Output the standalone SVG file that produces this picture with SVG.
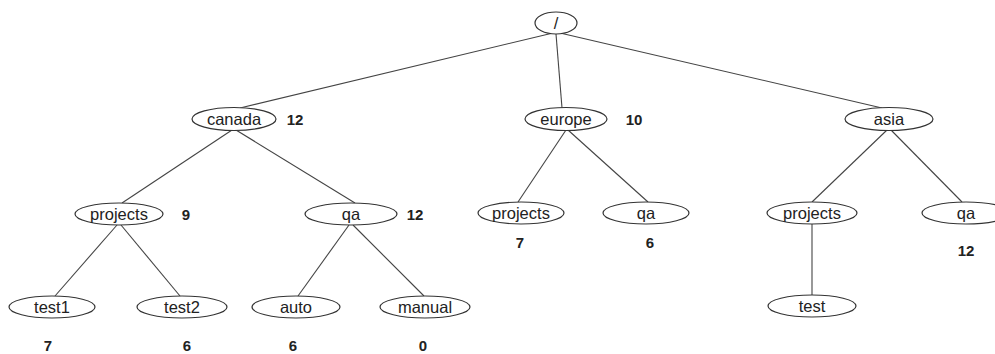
<svg xmlns="http://www.w3.org/2000/svg" width="995" height="354" viewBox="0 0 995 354">
  <style>
    .node ellipse { fill: #ffffff; stroke: #333333; stroke-width: 1.2; }
    .node text { font-family: "Liberation Sans", Arial, sans-serif; font-size: 16.5px; fill: #222222; text-anchor: middle; }
    .count { font-family: "Liberation Sans", Arial, sans-serif; font-size: 15px; font-weight: bold; fill: #222222; text-anchor: middle; }
    #edges line { stroke: #444444; stroke-width: 1.1; }
  </style>
  <rect width="995" height="354" fill="#ffffff"/>

  <g id="edges">
    <line x1="553" y1="33" x2="240" y2="108"/>
    <line x1="556" y1="34" x2="562" y2="108"/>
    <line x1="560" y1="33" x2="882" y2="108"/>
    <line x1="232" y1="130" x2="122" y2="203"/>
    <line x1="236" y1="130" x2="355" y2="203"/>
    <line x1="566" y1="130" x2="518" y2="202"/>
    <line x1="568" y1="130" x2="648" y2="202"/>
    <line x1="887" y1="130" x2="812" y2="202"/>
    <line x1="891" y1="130" x2="962" y2="202"/>
    <line x1="117" y1="225" x2="55" y2="296"/>
    <line x1="121" y1="225" x2="180" y2="296"/>
    <line x1="349" y1="225" x2="298" y2="296"/>
    <line x1="353" y1="225" x2="424" y2="296"/>
    <line x1="812" y1="224" x2="812" y2="295"/>
  </g>

  <g id="root" class="node"><ellipse cx="556" cy="23" rx="21" ry="11"/><text x="556" y="29">/</text></g>

  <g id="canada" class="node"><ellipse cx="234" cy="119" rx="42" ry="11.5"/><text x="234" y="125">canada</text></g>
  <text class="count" x="295" y="124.5">12</text>

  <g id="europe" class="node"><ellipse cx="566" cy="119" rx="41" ry="11.5"/><text x="566" y="125">europe</text></g>
  <text class="count" x="634" y="124.5">10</text>

  <g id="asia" class="node"><ellipse cx="889" cy="119" rx="44" ry="11.5"/><text x="889" y="125">asia</text></g>

  <g id="canada-projects" class="node"><ellipse cx="119" cy="214" rx="44" ry="11"/><text x="119" y="220">projects</text></g>
  <text class="count" x="186" y="219.5">9</text>

  <g id="canada-qa" class="node"><ellipse cx="351" cy="214" rx="46" ry="11"/><text x="351" y="220">qa</text></g>
  <text class="count" x="415" y="219.5">12</text>

  <g id="europe-projects" class="node"><ellipse cx="521" cy="213" rx="43" ry="11"/><text x="521" y="219">projects</text></g>
  <text class="count" x="520" y="248">7</text>

  <g id="europe-qa" class="node"><ellipse cx="646" cy="213" rx="43" ry="11"/><text x="646" y="219">qa</text></g>
  <text class="count" x="650" y="248">6</text>

  <g id="asia-projects" class="node"><ellipse cx="812" cy="213" rx="45" ry="11"/><text x="812" y="219">projects</text></g>

  <g id="asia-qa" class="node"><ellipse cx="966" cy="213" rx="44" ry="11"/><text x="966" y="219">qa</text></g>
  <text class="count" x="966" y="256">12</text>

  <g id="test1" class="node"><ellipse cx="52" cy="307" rx="43" ry="11"/><text x="52" y="313">test1</text></g>
  <text class="count" x="48" y="351">7</text>

  <g id="test2" class="node"><ellipse cx="182" cy="307" rx="45" ry="11"/><text x="182" y="313">test2</text></g>
  <text class="count" x="187" y="351">6</text>

  <g id="auto" class="node"><ellipse cx="296" cy="307" rx="44" ry="11"/><text x="296" y="313">auto</text></g>
  <text class="count" x="293" y="351">6</text>

  <g id="manual" class="node"><ellipse cx="425" cy="307" rx="45" ry="11"/><text x="425" y="313">manual</text></g>
  <text class="count" x="423" y="351">0</text>

  <g id="test" class="node"><ellipse cx="812" cy="306" rx="44" ry="11"/><text x="812" y="312">test</text></g>
</svg>
